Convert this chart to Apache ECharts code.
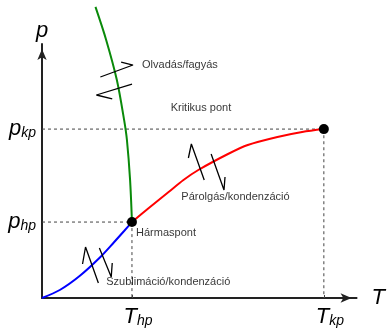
<!DOCTYPE html>
<html>
<head>
<meta charset="utf-8">
<script src="https://cdn.jsdelivr.net/npm/echarts@6/dist/echarts.min.js"></script>
<style>
html,body{margin:0;padding:0;background:#fff;}
#c{width:388px;height:328px;}
</style>
</head>
<body>
<div id="c"></div>
<script>
// Key points (T, p) in relative units 0..100
var tHp = 28.6, pHp = 29.9;   // triple point
var tKp = 89.6, pKp = 66.5;   // critical point

// Phase boundary curves
var meltCurve = [[28.6,29.9],[28.0,46.5],[27.0,62.2],[26.1,70.1],[23.8,85.8],[20.4,101.6],[17.0,114.6]];
var vapCurve = [[28.6,29.9],[33.96,35.43],[40.25,41.73],[44.97,46.46],[49.69,50.39],[59.12,56.69],[65.41,60.24],[74.84,63.39],[82.70,65.35],[89.6,66.5]];
var sublCurve = [[0,0],[5.66,3.15],[11.95,8.66],[18.24,15.75],[22.96,22.05],[26.1,26.38],[28.6,29.9]];

// Transition arrow glyphs
var glyphs = [
  [[18.55,87.01],[28.93,91.73],[25.16,92.91]],
  [[28.62,84.25],[17.30,79.92],[22.33,78.35]],
  [[46.54,55.12],[47.48,60.63],[51.57,46.46]],
  [[53.77,56.69],[57.86,42.52],[58.18,47.64]],
  [[12.89,13.39],[13.84,20.08],[17.92,5.91]],
  [[18.24,19.69],[22.01,8.27],[22.33,13.78]]
];

// Annotations
var noteTexts = ['Olvadás/fagyás','Kritikus pont','Párolgás/kondenzáció','Hármaspont','Szublimáció/kondenzáció'];
var noteAnchors = [[31.8,91.7],[40.9,74.8],[44.3,39.8],[29.9,25.6],[20.4,6.3]];

// Tick labels
var xTickLabels = ['{m|T}{s|hp}','{m|T}{s|kp}'];
var yTickLabels = ['{m|p}{s|hp}','{m|p}{s|kp}'];

var FONT = "'Liberation Sans', Arial, Helvetica, sans-serif";
var chart = echarts.init(document.getElementById('c'), null, {renderer:'canvas'});

var series = [];
// dashed guides
series.push({type:'line', data:[[0,pHp],[tHp,pHp],[tHp,0]], symbol:'none', silent:true,
  lineStyle:{color:'#444', width:1, type:[3,3]}, z:1});
series.push({type:'line', data:[[0,pKp],[tKp,pKp],[tKp,0]], symbol:'none', silent:true,
  lineStyle:{color:'#444', width:1, type:[3,3]}, z:1});
series.push({type:'line', data:meltCurve, smooth:0.3, symbol:'none', clip:false,
  lineStyle:{color:'#0a8a0a', width:2}, z:3});
series.push({type:'line', data:vapCurve, smooth:0.3, symbol:'none',
  lineStyle:{color:'#ff0000', width:2}, z:3});
series.push({type:'line', data:sublCurve, smooth:0.3, symbol:'none',
  lineStyle:{color:'#0000ff', width:2}, z:3});
glyphs.forEach(function(g){
  series.push({type:'line', data:g, symbol:'none', clip:false,
    lineStyle:{color:'#000', width:1.3}, z:4});
});
series.push({type:'scatter', data:[[tHp,pHp],[tKp,pKp]], symbolSize:10,
  itemStyle:{color:'#000', opacity:1}, z:5});
series.push({type:'scatter', symbolSize:0, z:6,
  data:noteAnchors.map(function(a,i){return {value:a, name:noteTexts[i]};}),
  label:{show:true, position:'right', distance:0, formatter:'{b}',
    color:'#000', fontSize:11, fontFamily:FONT}});

var rich = {
  m:{fontSize:22, fontStyle:'italic', fontFamily:FONT, color:'#000', verticalAlign:'bottom'},
  s:{fontSize:14, fontStyle:'italic', fontFamily:FONT, color:'#000', verticalAlign:'bottom'}
};
var richX = {
  m:{fontSize:22, fontStyle:'italic', fontFamily:FONT, color:'#000', verticalAlign:'bottom', padding:[0,0,0,12]},
  s:{fontSize:14, fontStyle:'italic', fontFamily:FONT, color:'#000', verticalAlign:'bottom'}
};

chart.setOption({
  animation:false,
  grid:{left:42, right:28, top:44, bottom:30, containLabel:false},
  xAxis:{type:'value', min:0, max:100,
    name:'T', nameLocation:'end', nameGap:15,
    nameTextStyle:{fontSize:22, fontStyle:'italic', fontFamily:FONT, color:'#000'},
    axisLine:{show:true, symbol:['none','arrow'], symbolSize:[7,11], symbolOffset:[0,-5],
      lineStyle:{color:'#222', width:2}},
    axisTick:{show:true, inside:true, length:3, customValues:[tHp,tKp], lineStyle:{color:'#444'}},
    axisLabel:{customValues:[tHp,tKp], margin:8,
      formatter:function(v){return v===tHp?xTickLabels[0]:xTickLabels[1];}, rich:richX},
    splitLine:{show:false}},
  yAxis:{type:'value', min:0, max:100,
    name:'p', nameLocation:'end', nameGap:2,
    nameTextStyle:{fontSize:22, fontStyle:'italic', fontFamily:FONT, color:'#000', align:'center'},
    axisLine:{show:true, symbol:['none','arrow'], symbolSize:[7,11], symbolOffset:[0,-5],
      lineStyle:{color:'#222', width:2}},
    axisTick:{show:false},
    axisLabel:{customValues:[pHp,pKp], margin:6,
      formatter:function(v){return v===pHp?yTickLabels[0]:yTickLabels[1];}, rich:rich},
    splitLine:{show:false}},
  series:series
});
</script>
</body>
</html>
